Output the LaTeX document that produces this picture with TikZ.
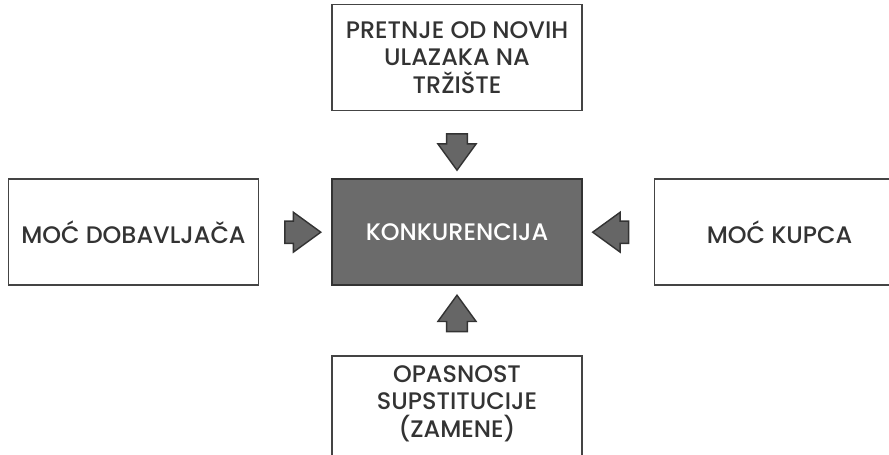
\documentclass[tikz,border=0pt]{standalone}
\usepackage{fontspec}
\setmainfont{Poppins}[UprightFont={* Medium}]
\usepackage{xcolor}
\usepackage{tikz}
\usetikzlibrary{
  positioning,
  calc,
  shapes.arrows
}

\definecolor{boxline}{HTML}{444444}
\definecolor{textgray}{HTML}{333333}
\definecolor{corefill}{HTML}{6B6B6B}
\definecolor{coreline}{HTML}{333333}
\definecolor{pushfill}{HTML}{666666}

\begin{document}
\begin{tikzpicture}[
  force/.style={draw=boxline, line width=1.1pt, fill=white,
    minimum width=6.25cm, minimum height=2.65cm, inner sep=0pt,
    align=center, text=textgray, font=\fontsize{17}{19.5}\selectfont},
  core/.style={force, draw=coreline, fill=corefill, text=white},
  push/.style={single arrow, draw=coreline, fill=pushfill, line width=1pt,
    inner xsep=0.24cm, inner ysep=0.26cm,
    single arrow head extend=0.22cm, single arrow tip angle=72}
]
  % Frame
  \useasboundingbox (0,0) rectangle (22.225,11.375);
  \clip (0,0) rectangle (22.225,11.375);
  % Forces
  \node[core] (konk) at (11.425,5.57) {KONKURENCIJA};
  \node[force, above=1.675cm of konk] (pretnje) {PRETNJE OD NOVIH\\ULAZAKA NA\\TRŽIŠTE};
  \node[force, left=1.8cm of konk] (dobav) {MOĆ DOBAVLJAČA};
  \node[force, right=1.775cm of konk] (kupac) {MOĆ KUPCA};
  \node[force, below=1.725cm of konk, inner ysep=0.25cm, text depth=1.8cm] (zamena)
       {OPASNOST\\SUPSTITUCIJE\\(ZAMENE)};
  % Arrows
  \node[push, shape border rotate=270] (p1) at ($(pretnje.south)!0.5!(konk.north)$) {};
  \node[push] (p2) at ($(dobav.east)!0.5!(konk.west)$) {};
  \node[push, shape border rotate=180] (p3) at ($(kupac.west)!0.5!(konk.east)$) {};
  \node[push, shape border rotate=90] (p4) at ($(zamena.north)!0.5!(konk.south)$) {};
\end{tikzpicture}
\end{document}
